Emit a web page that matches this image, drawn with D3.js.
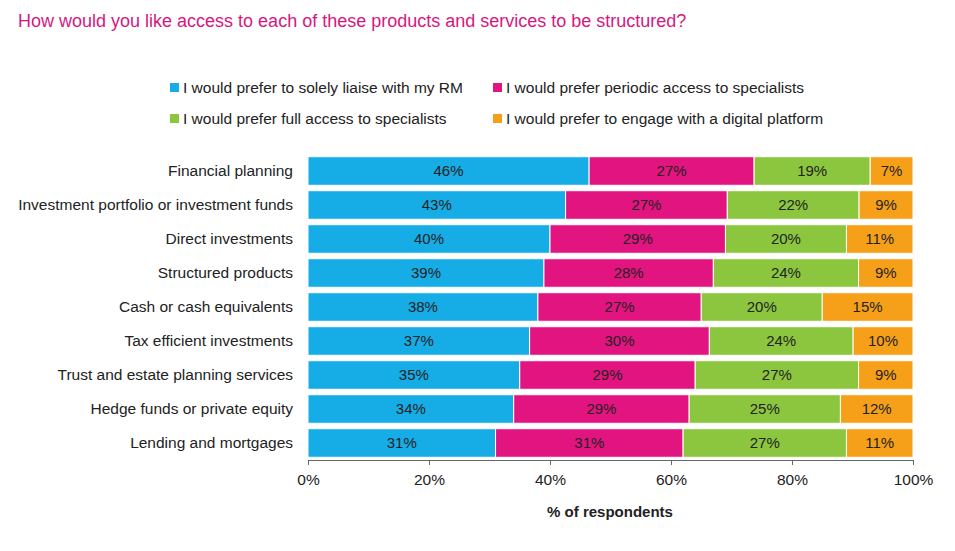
<!DOCTYPE html>
<html><head><meta charset="utf-8">
<script src="https://cdn.jsdelivr.net/npm/d3@7"></script>
<style>
body{margin:0;background:#fff;}
text{font-family:"Liberation Sans Narrow","Arial Narrow","Liberation Sans",sans-serif;}
</style></head>
<body>
<script>
var categories = ["Financial planning","Investment portfolio or investment funds","Direct investments",
  "Structured products","Cash or cash equivalents","Tax efficient investments",
  "Trust and estate planning services","Hedge funds or private equity","Lending and mortgages"];
var seriesNames = ["I would prefer to solely liaise with my RM","I would prefer periodic access to specialists",
  "I would prefer full access to specialists","I would prefer to engage with a digital platform"];
var rm        = [46,43,40,39,38,37,35,34,31];
var periodic  = [27,27,29,28,27,30,29,29,31];
var full      = [19,22,20,24,20,24,27,25,27];
var digital   = [7,9,11,9,15,10,9,12,11];
var xTicks = [0,20,40,60,80,100];
var colors = ["#16ace6","#e2147f","#8cc63e","#f6a01a"];

var W=955,H=551;
var svg=d3.select("body").append("svg").attr("width",W).attr("height",H);

svg.append("text").attr("x",18).attr("y",27).attr("fill","#d6177f")
  .style("font-family","'Liberation Sans',Arial,sans-serif").style("font-size","18px")
  .text("How would you like access to each of these products and services to be structured?");

var rows=categories.map(function(c,i){
  var v=[rm[i],periodic[i],full[i],digital[i]], s=d3.sum(v), acc=0;
  return {cat:c, segs:v.map(function(d,k){var o={k:k,v:d,x0:acc/s*100,x1:(acc+d)/s*100};acc+=d;return o;})};
});

var x=d3.scaleLinear().domain([0,100]).range([308,913]);
var y=d3.scaleBand().domain(categories).range([154,460]).paddingInner(0.16).paddingOuter(0.08);

var g=svg.selectAll(".row").data(rows).enter().append("g");
g.selectAll("rect").data(function(d){return d.segs;}).enter().append("rect")
  .attr("x",function(d){return x(d.x0);})
  .attr("width",function(d){return x(d.x1)-x(d.x0);})
  .attr("y",function(d){return y(this.parentNode.__data__.cat);})
  .attr("height",y.bandwidth())
  .attr("fill",function(d){return colors[d.k];})
  .attr("stroke","#fff").attr("stroke-width",1);
g.selectAll("text.v").data(function(d){return d.segs;}).enter().append("text")
  .attr("x",function(d){return (x(d.x0)+x(d.x1))/2;})
  .attr("y",function(d){return y(this.parentNode.__data__.cat)+y.bandwidth()/2+5;})
  .attr("text-anchor","middle").style("font-size","15px").attr("fill","#222")
  .text(function(d){return d.v+"%";});

svg.selectAll(".cat").data(categories).enter().append("text")
  .attr("x",293).attr("y",function(d){return y(d)+y.bandwidth()/2+5;})
  .attr("text-anchor","end").style("font-size","15.5px").attr("fill","#222").text(function(d){return d;});

var ax=svg.append("g").attr("transform","translate(0,460)")
  .call(d3.axisBottom(x).tickValues(xTicks).tickSize(5).tickFormat(function(d){return d+"%";}));
ax.select(".domain").attr("stroke","#666");
ax.selectAll("line").attr("stroke","#666");
ax.selectAll("text").style("font-size","15.5px").attr("fill","#222").attr("dy","1.1em");

svg.append("text").attr("x",610).attr("y",517).attr("text-anchor","middle")
  .style("font-size","15px").style("font-weight","bold").attr("fill","#222").text("% of respondents");

var lx=[170,493], ly=[88,119];
seriesNames.forEach(function(n,i){
  var gx=lx[i%2], gy=ly[Math.floor(i/2)];
  svg.append("rect").attr("x",gx).attr("y",gy-5).attr("width",9).attr("height",9).attr("fill",colors[i]);
  svg.append("text").attr("x",gx+13).attr("y",gy+5).style("font-size","15.5px").attr("fill","#222").text(n);
});
</script>
</body></html>
